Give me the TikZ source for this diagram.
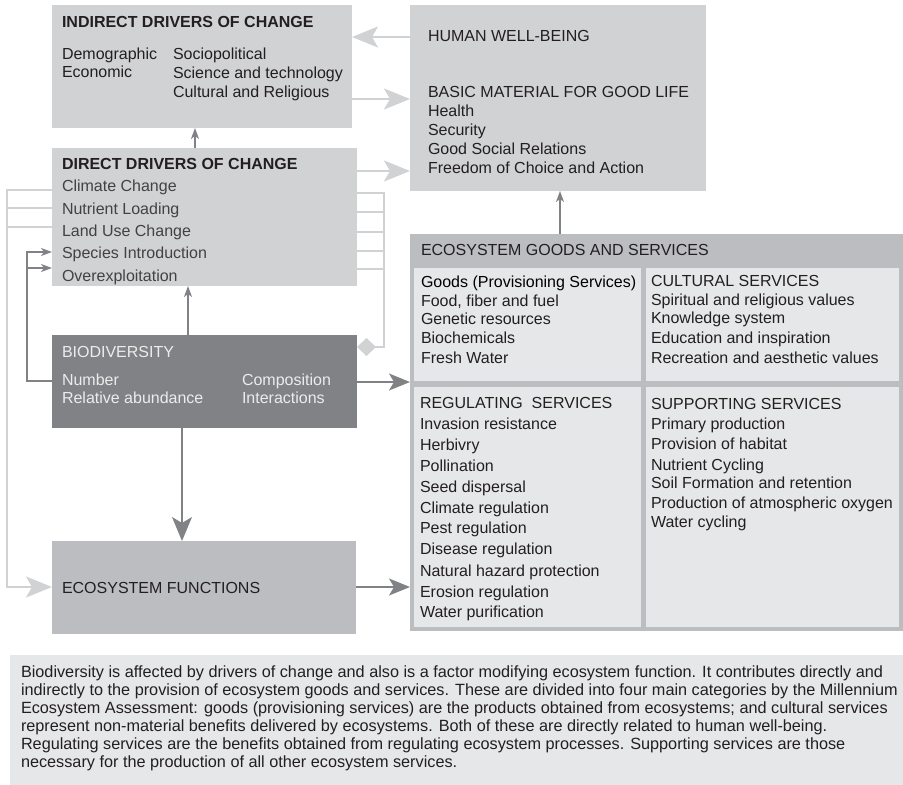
\documentclass[tikz,border=0pt]{standalone}
\usepackage{fontspec}
\setmainfont{Liberation Sans}
\usetikzlibrary{arrows.meta}
\definecolor{lightbox}{HTML}{D1D2D4}
\definecolor{midbox}{HTML}{BCBDC0}
\definecolor{palebox}{HTML}{E6E7E8}
\definecolor{darkbox}{HTML}{808285}
\definecolor{ink}{HTML}{231F20}
\definecolor{biotext}{HTML}{ECECEC}
\definecolor{lightline}{HTML}{D1D2D4}
\definecolor{darkline}{HTML}{808285}
\begin{document}
\begin{tikzpicture}[x=1pt,y=-1pt,
  panel/.style={draw=none, inner sep=0pt, outer sep=0pt, anchor=north west},
  txt/.style={anchor=base west, inner sep=0pt, outer sep=0pt, text=ink, font=\fontsize{16}{18}\selectfont},
  captxt/.style={txt, font=\fontsize{16.25}{18}\selectfont},
  hd/.style={txt, font=\fontsize{16}{18}\selectfont\bfseries},
  biotxt/.style={txt, text=biotext},
  lightconn/.style={draw=lightline, line width=1.8pt},
  darkconn/.style={draw=darkline, line width=1.5pt},
  biglight/.style={-{Stealth[length=26pt,width=21pt,inset=6pt]}},
  bigdark/.style={-{Stealth[length=21pt,width=17pt,inset=5pt]}},
  hugedark/.style={-{Stealth[length=24pt,width=20pt,inset=6pt]}},
  smallhead/.style={-{Stealth[length=11pt,width=8pt,inset=3pt]}},
  diamondtip/.style={-{Diamond[length=19pt,width=18pt]}}
]
\useasboundingbox (0,0) rectangle (903,785);

% panels
\node[panel, fill=lightbox, minimum width=300pt, minimum height=123pt] (ind) at (52,5) {};
\node[panel, fill=lightbox, minimum width=296pt, minimum height=186pt] (hwb) at (410,5) {};
\node[panel, fill=lightbox, minimum width=305pt, minimum height=138pt] (dir) at (52,148) {};
\node[panel, fill=darkbox, minimum width=305pt, minimum height=93pt] (bio) at (52,335) {};
\node[panel, fill=midbox, minimum width=304pt, minimum height=93pt] (ecf) at (52,541) {};
\node[panel, fill=midbox, minimum width=493pt, minimum height=397pt] (egs) at (410,234) {};
\node[panel, fill=palebox, minimum width=227pt, minimum height=113pt] (goods) at (414,268) {};
\node[panel, fill=palebox, minimum width=253pt, minimum height=113pt] (cult) at (646,268) {};
\node[panel, fill=palebox, minimum width=227pt, minimum height=240pt] (reg) at (414,387) {};
\node[panel, fill=palebox, minimum width=253pt, minimum height=240pt] (sup) at (646,387) {};
\node[panel, fill=palebox, minimum width=893pt, minimum height=130pt] (cap) at (10,655) {};

% indirect drivers
\node[hd] (indT) at (62,27) {INDIRECT DRIVERS OF CHANGE};
\node[txt] (indA) at (62,59) {Demographic};
\node[txt] (indB) at (62,77) {Economic};
\node[txt] (indC) at (173,59) {Sociopolitical};
\node[txt] (indD) at (173,78) {Science and technology};
\node[txt] (indE) at (173,97) {Cultural and Religious};

% human well-being
\node[txt] (hwbT) at (428,41) {HUMAN WELL-BEING};
\node[txt] (hwbS) at (428,97) {BASIC MATERIAL FOR GOOD LIFE};
\foreach \y/\t [count=\i] in {116/Health, 135/Security, 154/Good Social Relations, 173/Freedom of Choice and Action}
  \node[txt] (hwb-\i) at (428,\y) {\t};

% direct drivers
\node[hd] (dirT) at (62,169) {DIRECT DRIVERS OF CHANGE};
\foreach \y/\t [count=\i] in {191/Climate Change, 214/Nutrient Loading, 236/Land Use Change, 258/Species Introduction, 281/Overexploitation}
  \node[txt, text=ink!85] (dir-\i) at (62,\y) {\t};

% biodiversity
\node[biotxt] (bioT) at (62,357) {BIODIVERSITY};
\node[biotxt] (bioA) at (62,385) {Number};
\node[biotxt] (bioB) at (62,403) {Relative abundance};
\node[biotxt] (bioC) at (242,385) {Composition};
\node[biotxt] (bioD) at (242,403) {Interactions};

% ecosystem functions
\node[txt] (ecfT) at (62,593) {ECOSYSTEM FUNCTIONS};

% ecosystem goods and services
\node[txt] (egsT) at (421,255) {ECOSYSTEM GOODS AND SERVICES};
\node[txt, text=black] (goodsT) at (421,287) {Goods (Provisioning Services)};
\foreach \y/\t [count=\i] in {306/{Food, fiber and fuel}, 324/Genetic resources, 343/Biochemicals, 363/Fresh Water}
  \node[txt] (goods-\i) at (421,\y) {\t};
\node[txt] (cultT) at (651,286) {CULTURAL SERVICES};
\foreach \y/\t [count=\i] in {305/Spiritual and religious values, 323/Knowledge system, 343/Education and inspiration, 363/Recreation and aesthetic values}
  \node[txt] (cult-\i) at (651,\y) {\t};
\node[txt] (regT) at (420,408) {REGULATING\ \ SERVICES};
\foreach \y/\t [count=\i] in {429/Invasion resistance, 450/Herbivry, 471/Pollination, 492/Seed dispersal, 513/Climate regulation, 533/Pest regulation, 554/Disease regulation, 576/Natural hazard protection, 597/Erosion regulation, 617/Water purification}
  \node[txt] (reg-\i) at (420,\y) {\t};
\node[txt] (supT) at (651,409) {SUPPORTING SERVICES};
\foreach \y/\t [count=\i] in {429/Primary production, 449/Provision of habitat, 470/Nutrient Cycling, 488/Soil Formation and retention, 508/Production of atmospheric oxygen, 527/Water cycling}
  \node[txt] (sup-\i) at (651,\y) {\t};

% caption
\node[captxt] (cap-1) at (21,677) {Biodiversity is affected by drivers of change and also is a factor modifying ecosystem function. It contributes directly and};
\node[captxt] (cap-2) at (21,695) {indirectly to the provision of ecosystem goods and services. These are divided into four main categories by the Millennium};
\node[captxt] (cap-3) at (21,713) {Ecosystem Assessment: goods (provisioning services) are the products obtained from ecosystems; and cultural services};
\node[captxt] (cap-4) at (21,731) {represent non-material benefits delivered by ecosystems. Both of these are directly related to human well-being.};
\node[captxt] (cap-5) at (21,749) {Regulating services are the benefits obtained from regulating ecosystem processes. Supporting services are those};
\node[captxt] (cap-6) at (21,767) {necessary for the production of all other ecosystem services.};

% connectors
\draw[lightconn, biglight] ([yshift=-32pt]hwb.north west) -- ([yshift=-32pt]ind.north east);
\draw[lightconn, biglight] ([yshift=-94pt]ind.north east) -- ([yshift=-94pt]hwb.north west);
\draw[lightconn, biglight] ([yshift=-23pt]dir.north east) -- ([yshift=-166pt]hwb.north west);
\draw[darkconn, smallhead] ([xshift=143pt]dir.north west) -- ([xshift=143pt]ind.south west);
\draw[darkconn, smallhead] ([xshift=136pt]bio.north west) -- ([xshift=136pt]dir.south west);
\draw[darkconn, hugedark] ([xshift=130pt]bio.south west) -- ([xshift=130pt]ecf.north west);
\draw[darkconn, bigdark] ([yshift=-47pt]bio.north east) -- ([yshift=-148pt]egs.north west);
\draw[darkconn, bigdark] ([yshift=-46pt]ecf.north east) -- ([yshift=-353pt]egs.north west);
\draw[darkconn, smallhead] ([xshift=150pt]egs.north west) -- ([xshift=150pt]hwb.south west);

% left light loop
\draw[lightconn, biglight] ([yshift=-42pt]dir.north west) -- ++(-45,0) |- ([yshift=-46pt]ecf.north west);
\draw[lightconn] ([yshift=-60pt]dir.north west) -- ++(-45,0);
\draw[lightconn] ([yshift=-79pt]dir.north west) -- ++(-45,0);

% dark loop
\draw[darkconn, smallhead] ([yshift=-46pt]bio.north west) -- ++(-25,0) |- ([yshift=-104pt]dir.north west);
\draw[darkconn, smallhead] ([xshift=-25pt,yshift=-120pt]dir.north west) -- ([yshift=-120pt]dir.north west);

% right light loop
\draw[lightconn, diamondtip] ([yshift=-45pt]dir.north east) -- ++(27,0) |- ([yshift=-12pt]bio.north east);
\foreach \s in {64,84,103,121}
  \draw[lightconn] ([yshift=-\s pt]dir.north east) -- ++(27,0);
\end{tikzpicture}
\end{document}
